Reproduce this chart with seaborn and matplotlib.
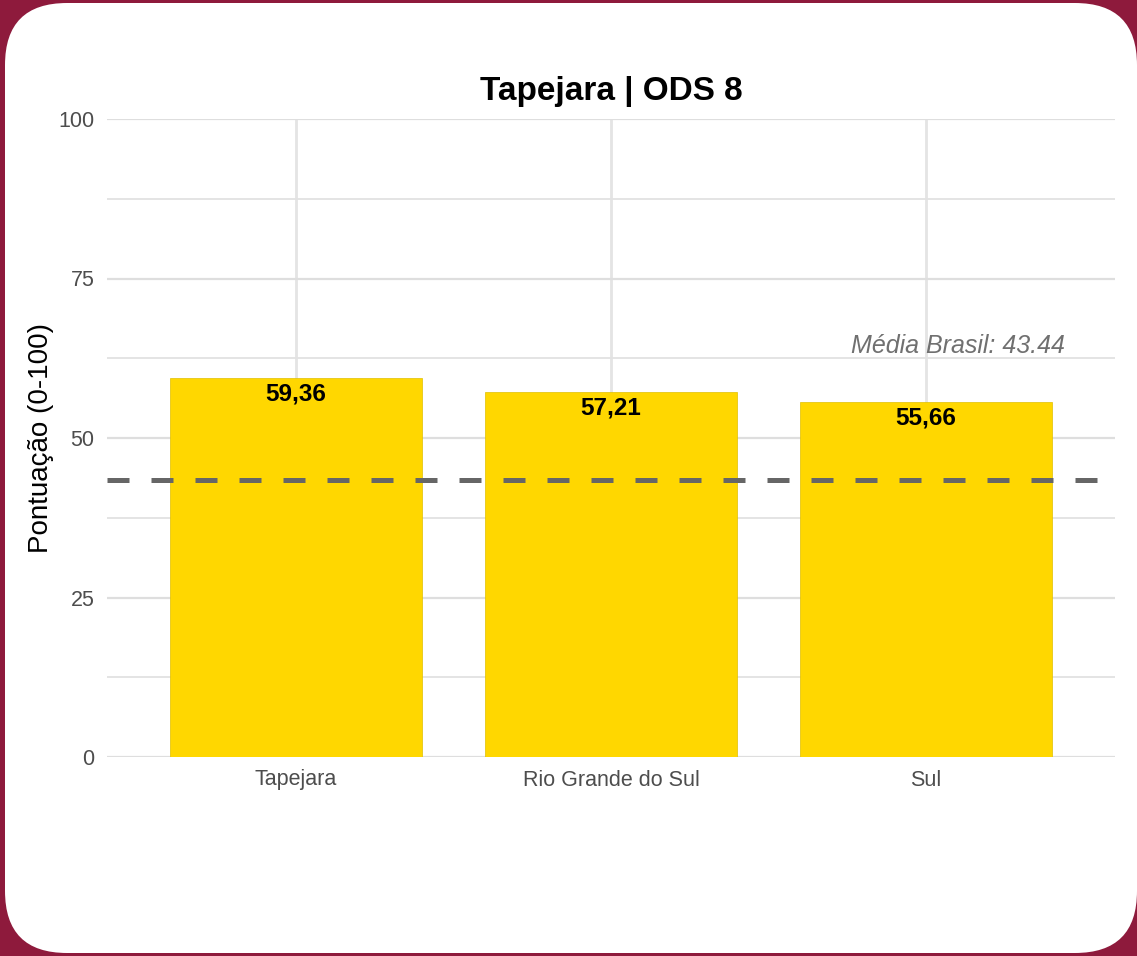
import numpy as np
import pandas as pd
import matplotlib
matplotlib.use('Agg')
import matplotlib.pyplot as plt
import seaborn as sns
from matplotlib.patches import FancyBboxPatch
from matplotlib.ticker import MultipleLocator
from matplotlib.transforms import IdentityTransform

# data
regioes = ["Tapejara", "Rio Grande do Sul", "Sul"]
pontuacao = [59.36, 57.21, 55.66]
media_brasil = 43.44
titulo = "Tapejara | ODS 8"

df = pd.DataFrame({"regiao": regioes, "pontuacao": pontuacao})

sns.set_theme(style="whitegrid")
plt.rcParams['font.family'] = ['Liberation Sans', 'DejaVu Sans']

fig = plt.figure(figsize=(11.37, 9.56), dpi=100)
fig.patch.set_facecolor("#8E1A3C")

# white rounded card behind everything
card = FancyBboxPatch((5, 3), 1132, 950, boxstyle="round,pad=0,rounding_size=62",
                      transform=IdentityTransform(), facecolor="white", edgecolor="none",
                      zorder=-10)
fig.add_artist(card)

# axes placement in pixels
W, H = 1137, 956
ax = fig.add_axes([107 / W, 1 - 757 / H, (1115 - 107) / W, (757 - 119) / H])
ax.set_facecolor("none")

sns.barplot(data=df, x="regiao", y="pontuacao", color="#FFD700", width=0.8,
            saturation=1, edgecolor="#E0C000", linewidth=0.5, ax=ax, zorder=2)

ax.set_xlim(-0.6, 2.6)
ax.set_ylim(0, 100)
ax.yaxis.set_major_locator(MultipleLocator(25))
ax.yaxis.set_minor_locator(MultipleLocator(12.5))
ax.grid(which="major", axis="y", color="#DEDEDE", linewidth=1.6, zorder=0)
ax.grid(which="major", axis="x", color="#E4E4E4", linewidth=2.0, zorder=0)
ax.grid(which="minor", axis="y", color="#E2E2E2", linewidth=1.3, zorder=0)
ax.set_axisbelow(True)
for s in ax.spines.values():
    s.set_visible(False)
ax.tick_params(axis="both", length=0, labelsize=15.5, colors="#4D4D4D")
ax.tick_params(axis="y", pad=9)
ax.tick_params(axis="x", pad=9)

# value labels
for i, v in enumerate(pontuacao):
    ax.annotate(f"{v:.2f}".replace(".", ","), (i, v), xytext=(0, -3), textcoords="offset points",
                ha="center", va="top", fontsize=17.5, fontweight="bold", color="black", zorder=4)

# reference line
ax.axhline(media_brasil, color="#666666", linewidth=3.6, dashes=(4.4, 4.4), zorder=3)
ax.text(2.1, media_brasil + 21, f"Média Brasil: {media_brasil:.2f}", ha="center", va="center",
        fontsize=18, fontstyle="italic", color="#707070")

ax.set_xlabel("")
ax.set_ylabel("Pontuação (0-100)", fontsize=20, color="black", labelpad=3.5)
ax.set_title(titulo, fontsize=24, fontweight="bold", color="black", pad=14)

fig.savefig("out.png", dpi=100, facecolor=fig.get_facecolor())
plt.close()
